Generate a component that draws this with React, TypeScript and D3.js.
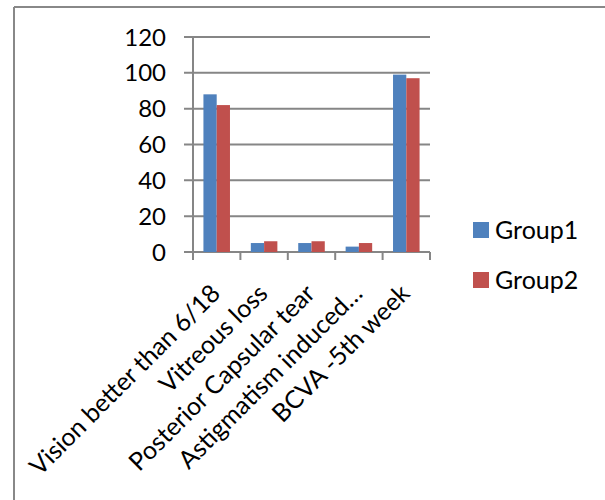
import React from "react";
import * as d3 from "d3";

const categories = [
  "Vision better than 6/18",
  "Vitreous loss",
  "Posterior Capsular tear",
  "Astigmatism induced…",
  "BCVA -5th week",
];
const group1 = [88, 5, 5, 3, 99];
const group2 = [82, 6, 6, 5, 97];
const seriesNames = ["Group1", "Group2"];
const seriesColors = ["#4F81BD", "#C0504D"];
const yTicks = [0, 20, 40, 60, 80, 100, 120];

const W = 605;
const H = 500;
const FONT = "Lato, 'Open Sans', sans-serif";

export default function App() {
  const x0 = 193, x1 = 430, yTop = 37, yBottom = 252;
  const x = d3.scaleBand<string>().domain(categories).range([x0, x1]);
  const y = d3.scaleLinear().domain([0, 120]).range([yBottom, yTop]);
  const bw = x.bandwidth() * 0.28;
  const series = [group1, group2];
  const grid = "#868686";

  return (
    <svg
      width={W}
      height={H}
      style={{ position: "absolute", left: 0, top: 0, background: "#fff" }}
      fontFamily={FONT}
    >
      <rect x={0} y={0} width={W} height={H} fill="#fff" />
      {/* outer frame */}
      <line x1={14} y1={7} x2={W} y2={7} stroke="#888" strokeWidth={2} />
      <line x1={14} y1={7} x2={14} y2={H} stroke="#888" strokeWidth={2} />

      {/* gridlines */}
      {yTicks.map((t) => (
        <line key={"g" + t} x1={x0 - 9} x2={x1} y1={y(t)} y2={y(t)} stroke={grid} strokeWidth={2} />
      ))}
      {/* y axis */}
      <line x1={x0} x2={x0} y1={yTop} y2={yBottom} stroke={grid} strokeWidth={2} />
      {/* category ticks */}
      {[...categories.map((c) => x(c)!), x1].map((v, i) => (
        <line key={"t" + i} x1={v} x2={v} y1={yBottom} y2={yBottom + 8} stroke={grid} strokeWidth={2} />
      ))}

      {/* bars */}
      {categories.map((c, i) => {
        const start = x(c)! + (x.bandwidth() - 2 * bw) / 2;
        return series.map((s, j) => (
          <rect
            key={c + j}
            x={start + j * bw}
            y={y(s[i])}
            width={bw}
            height={yBottom - y(s[i])}
            fill={seriesColors[j]}
          />
        ));
      })}

      {/* y tick labels */}
      {yTicks.map((t) => (
        <text key={"l" + t} x={166} y={y(t)} dy="0.36em" textAnchor="end" fontSize={24} fill="#000">
          {t}
        </text>
      ))}

      {/* category labels */}
      {categories.map((c) => {
        const cx = x(c)! + x.bandwidth() / 2 + 5;
        const cy = yBottom + 43;
        return (
          <text
            key={"c" + c}
            x={cx}
            y={cy}
            textAnchor="end"
            fontSize={25}
            fill="#000"
            transform={`rotate(-45 ${cx} ${cy})`}
          >
            {c}
          </text>
        );
      })}

      {/* legend */}
      {seriesNames.map((n, i) => (
        <g key={n} transform={`translate(473, ${222 + i * 50})`}>
          <rect x={0} y={0} width={16} height={16} fill={seriesColors[i]} />
          <text x={22} y={8} dy="0.36em" fontSize={25} fill="#000">
            {n}
          </text>
        </g>
      ))}
    </svg>
  );
}
